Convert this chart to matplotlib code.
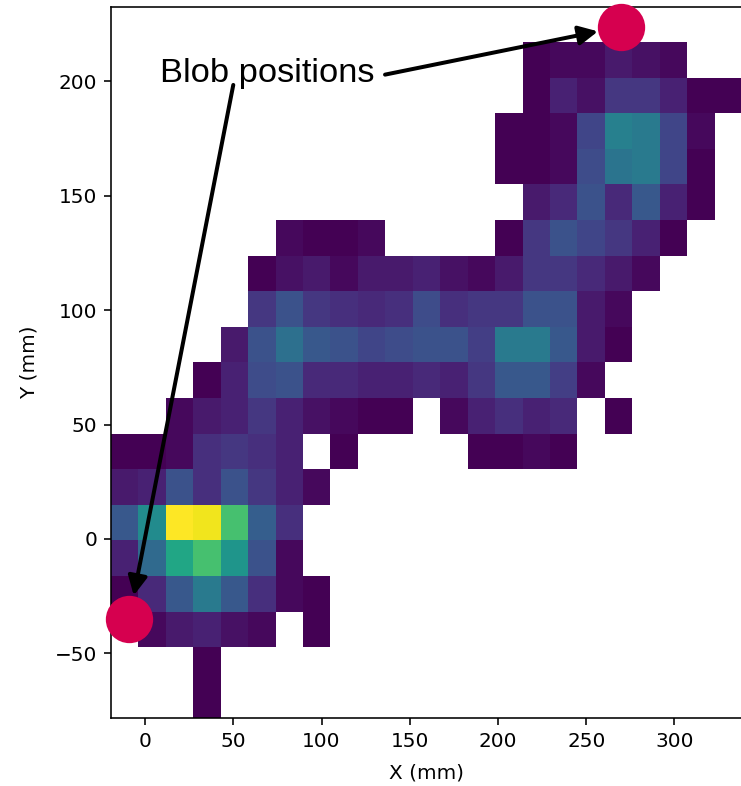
import numpy as np
import matplotlib
matplotlib.use("Agg")
import matplotlib.pyplot as plt

N = None
# 2D histogram counts, one list per row (top row first), 23 columns each
row_00 = [N]*15 + [1, 2, 2, 4, 3, 2] + [N]*2
row_01 = [N]*15 + [1, 5, 3, 8, 8, 5, 1, 1]
row_02 = [N]*14 + [1, 1, 2, 10, 20, 19, 10, 2] + [N]
row_03 = [N]*14 + [1, 1, 2, 11, 18, 19, 10, 1] + [N]
row_04 = [N]*15 + [4, 6, 12, 6, 13, 5, 1] + [N]
row_05 = [N]*6 + [2, 1, 1, 2] + [N]*4 + [1, 8, 12, 10, 8, 5, 1] + [N]*2
row_06 = [N]*5 + [1, 3, 4, 2, 4, 4, 5, 3, 2, 4, 8, 8, 6, 4, 2] + [N]*3
row_07 = [N]*5 + [8, 12, 8, 7, 6, 7, 11, 7, 8, 8, 12, 12, 4, 2] + [N]*4
row_08 = [N]*4 + [4, 12, 17, 13, 12, 10, 11, 12, 12, 9, 19, 19, 13, 4, 1] + [N]*4
row_09 = [N]*3 + [1, 5, 11, 12, 6, 6, 5, 5, 6, 5, 8, 13, 13, 9, 2] + [N]*5
row_10 = [N]*2 + [2, 4, 5, 8, 5, 3, 2, 1, 1] + [N] + [2, 5, 7, 5, 6] + [N] + [1] + [N]*4
row_11 = [1, 1, 2, 7, 8, 7, 5] + [N] + [1] + [N]*4 + [1, 1, 2, 1] + [N]*6
row_12 = [4, 5, 12, 7, 12, 8, 5, 2] + [N]*15
row_13 = [13, 22, 45, 44, 32, 14, 7] + [N]*16
row_14 = [5, 16, 27, 32, 24, 12, 2] + [N]*16
row_15 = [1, 6, 13, 19, 13, 7, 2, 1] + [N]*15
row_16 = [N] + [2, 4, 5, 3, 2] + [N] + [1] + [N]*15
row_17 = [N]*3 + [1] + [N]*19
row_18 = [N]*3 + [1] + [N]*19

rows = [row_00, row_01, row_02, row_03, row_04, row_05, row_06, row_07, row_08,
        row_09, row_10, row_11, row_12, row_13, row_14, row_15, row_16, row_17, row_18]

# histogram extent (mm)
x_lo, x_hi = -19.3, 338.3
y_lo, y_hi = -78.4, 217.3
y_top = 232.7

blob_x = [-9, 270]
blob_y = [-35, 224]

Z = np.array([[np.nan if v is None else v for v in r] for r in rows[::-1]], dtype=float)
x_edges = np.linspace(x_lo, x_hi, Z.shape[1] + 1)
y_edges = np.linspace(y_lo, y_hi, Z.shape[0] + 1)

W, H, DPI = 741, 786, 144
fig = plt.figure(figsize=(W / DPI, H / DPI), dpi=DPI)
ax = fig.add_axes([111 / W, (H - 718.3) / H, (742 - 111) / W, (718.3 - 6.7) / H])

ax.pcolormesh(x_edges, y_edges, np.ma.masked_invalid(Z), cmap='viridis', vmin=1, vmax=45)
ax.scatter(blob_x, blob_y, s=560, color='#d6004f', zorder=3, clip_on=False, linewidths=0)

ax.set_xlim(x_lo, x_hi)
ax.set_ylim(y_lo, y_top)
ax.set_xlabel('X (mm)', labelpad=6)
ax.set_ylabel('Y (mm)', labelpad=8)

ax.text(69, 203.5, 'Blob positions', ha='center', va='center', fontsize=17.2,
        family='Liberation Sans', zorder=4)
arrow = dict(arrowstyle='-|>', color='black', lw=2, mutation_scale=20, shrinkA=0, shrinkB=12)
ax.annotate('', xy=(blob_x[1], blob_y[1]), xytext=(136, 203), arrowprops=arrow, zorder=4)
ax.annotate('', xy=(blob_x[0], blob_y[0]), xytext=(50, 198.5), arrowprops=arrow, zorder=4)

fig.savefig('out.png', dpi=DPI)
